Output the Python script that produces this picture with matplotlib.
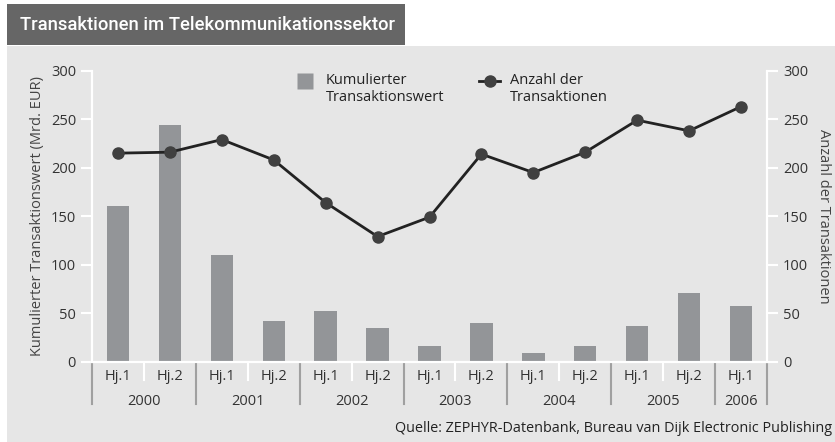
import matplotlib
matplotlib.use("Agg")
import numpy as np
import matplotlib.pyplot as plt
from matplotlib.patches import Rectangle
from matplotlib.lines import Line2D

# data
halves = ["Hj.1", "Hj.2"] * 6 + ["Hj.1"]
years = ["2000", "2001", "2002", "2003", "2004", "2005", "2006"]
year_len = [2, 2, 2, 2, 2, 2, 1]
wert = [160, 244, 110, 42, 52, 35, 16, 40, 9, 16, 37, 71, 57]
anzahl = [215, 216, 229, 208, 164, 129, 149, 214, 195, 216, 249, 238, 263]
yticks = [0, 50, 100, 150, 200, 250, 300]

plt.rcParams['font.family'] = ['Open Sans', 'DejaVu Sans']

W, H = 835, 442
fig = plt.figure(figsize=(W / 100, H / 100), dpi=100)
fig.patch.set_facecolor("white")

# panel and title bar (behind the axes)
fig.patches.append(Rectangle((7 / W, 0), 1 - 7 / W, 1 - 46 / H, transform=fig.transFigure,
                             facecolor="#e6e6e6", edgecolor="none", zorder=-5))
fig.patches.append(Rectangle((7 / W, 1 - 45 / H), 398 / W, 41 / H, transform=fig.transFigure,
                             facecolor="#666666", edgecolor="none", zorder=-5))
fig.text(20 / W, 1 - 25 / H, "Transaktionen im Telekommunikationssektor",
         color="white", fontsize=13.3, va="center", ha="left",
         family=["Roboto", "DejaVu Sans"], weight="medium")

ax = fig.add_axes([92 / W, 1 - 361.7 / H, 675 / W, 291 / H])
ax.patch.set_visible(False)
ax2 = ax.twinx()
ax2.patch.set_visible(False)

x = list(range(len(wert)))
bars = ax.bar(x, wert, width=0.43, color="#939598", zorder=2)
line, = ax2.plot(x, anzahl, color="#222222", lw=2, marker="o", markersize=8,
                 markerfacecolor="#404040", markeredgecolor="#404040", zorder=3)

for a in (ax, ax2):
    a.set_ylim(0, 300)
    a.set_yticks(yticks)
    a.set_xlim(-0.5, 12.5)
    a.spines["top"].set_visible(False)
    for s in ("left", "right", "bottom"):
        a.spines[s].set_color("white")
        a.spines[s].set_linewidth(1.5)
    a.tick_params(axis="y", direction="out", length=8, width=1.5, color="white",
                  labelsize=10.5, labelcolor="#333333", pad=3.5)

ax.set_xticks(x, halves)
ax.tick_params(axis="x", length=0, pad=5, labelsize=10.5, labelcolor="#333333")
ax2.tick_params(axis="x", length=0)

ax.set_ylabel("Kumulierter Transaktionswert (Mrd. EUR)", fontsize=10.5, color="#444444", va="center")
ax.yaxis.set_label_coords(-0.08, 0.5)
ax2.set_ylabel("Anzahl der Transaktionen", fontsize=10.5, color="#444444",
               rotation=270, va="center")
ax2.yaxis.set_label_coords(1.083, 0.5)

# category separators and year labels
tr = ax.get_xaxis_transform()
start = -0.5
for yr, n in zip(years, year_len):
    ax.add_line(Line2D([start, start], [0, -0.144], transform=tr, color="#a0a0a0",
                       lw=1.5, clip_on=False))
    if n == 2:
        ax.add_line(Line2D([start + 1, start + 1], [0, -0.063], transform=tr, color="white",
                           lw=1.5, clip_on=False))
    ax.text(start + n / 2, -0.136, yr, transform=tr, ha="center", va="center",
            fontsize=10.5, color="#333333")
    start += n
ax.add_line(Line2D([start, start], [0, -0.144], transform=tr, color="#a0a0a0",
                   lw=1.5, clip_on=False))

# legend
h_bar = Line2D([], [], marker="s", linestyle="none", markersize=11.5,
               markerfacecolor="#939598", markeredgecolor="none")
leg = fig.legend([h_bar, line], ["Kumulierter\nTransaktionswert", "Anzahl der\nTransaktionen"],
                 ncol=2, frameon=False, loc="upper left", bbox_to_anchor=(281 / W, 1 - 60 / H),
                 fontsize=10.5, handlelength=1.45, handletextpad=0.7, columnspacing=2.4,
                 labelcolor="#222222")
# put the handles level with the first label line
for h in leg.legend_handles:
    h.set_ydata(np.asarray(h.get_ydata(), dtype=float) + 6.2)

fig.text(832 / W, 1 - 428 / H, "Quelle: ZEPHYR-Datenbank, Bureau van Dijk Electronic Publishing",
         ha="right", va="center", fontsize=10.4, color="#222222")

fig.savefig("out.png", dpi=100)
